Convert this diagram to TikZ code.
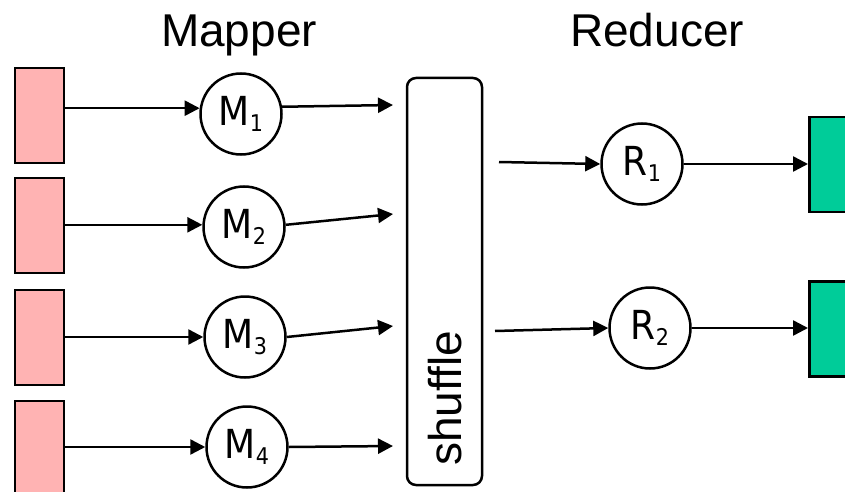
\documentclass[tikz,border=0pt]{standalone}
\usepackage{fontspec}
\setmainfont{Liberation Sans}
\newfontfamily\lblfont{DejaVu Sans Condensed}
\usetikzlibrary{arrows.meta}
\definecolor{inpink}{RGB}{255,179,179}
\definecolor{outgreen}{RGB}{0,204,153}
\newcommand{\lbl}[2]{{\lblfont\fontsize{40}{40}\selectfont #1\raisebox{-6pt}{\fontsize{23}{23}\selectfont #2}}}
\begin{document}
\begin{tikzpicture}[x=1pt,y=-1pt,
  inbox/.style={draw=black,line width=2.8pt,fill=inpink,minimum width=49pt,minimum height=95pt,inner sep=0pt},
  outbox/.style={draw=black,line width=2.8pt,fill=outgreen,minimum width=49pt,minimum height=95pt,inner sep=0pt,anchor=west},
  proc/.style={circle,draw=black,line width=2.5pt,minimum size=81pt,inner sep=0pt},
  conn/.style={line width=2.5pt,-{Triangle[length=15pt,width=15pt]}},
  title/.style={font=\fontsize{46}{46}\selectfont,anchor=base}]
\useasboundingbox (0,0) rectangle (845,492);
\fill[white] (0,0) rectangle (845,492);
% titles
\node[title] (tm) at (239,47) {Mapper};
\node[title] (tr) at (657,47) {Reducer};
% input boxes
\node[inbox] (i1) at (39.5,115.5) {};
\node[inbox] (i2) at (39.5,225.5) {};
\node[inbox] (i3) at (39.5,337.5) {};
\node[inbox] (i4) at (39.5,448.5) {};
% mappers
\node[proc] (m1) at (241,114) {\lbl{M}{1}};
\node[proc] (m2) at (244,227) {\lbl{M}{2}};
\node[proc] (m3) at (245,337) {\lbl{M}{3}};
\node[proc] (m4) at (247,447) {\lbl{M}{4}};
% shuffle
\node[draw=black,line width=2.5pt,rounded corners=9pt,minimum width=75pt,minimum height=407pt,inner sep=0pt] (sh) at (444.5,281.5) {};
\node[rotate=90,font=\fontsize{46}{46}\selectfont,inner sep=0pt] (sht) at (445,398.5) {shuffle};
% reducers
\node[proc] (r1) at (642,164) {\lbl{R}{1}};
\node[proc] (r2) at (650,328) {\lbl{R}{2}};
% outputs
\node[outbox] (o1) at (808,164.5) {};
\node[outbox] (o2) at (808,329) {};
% coordinates
\coordinate (a1) at (393,105);
\coordinate (a2) at (393,214);
\coordinate (a3) at (393,326);
\coordinate (a4) at (393,446);
\coordinate (b1) at (499,162);
\coordinate (b2) at (495,331);
% connectors
\draw[conn] (i1.east |- m1.172) -- (m1.172);
\draw[conn] (i2.east |- m2.177) -- (m2.177);
\draw[conn] (i3.east |- m3) -- (m3.west);
\draw[conn] (i4.east |- m4) -- (m4.west);
\draw[conn] (m1.10) -- (a1);
\draw[conn] (m2.3) -- (a2);
\draw[conn] (m3.east) -- (a3);
\draw[conn] (m4.east) -- (a4);
\draw[conn] (b1) -- (r1.west);
\draw[conn] (b2) -- (r2.west);
\draw[conn] (r1.east) -- (o1.west |- r1);
\draw[conn] (r2.east) -- (o2.west |- r2);
\end{tikzpicture}
\end{document}
